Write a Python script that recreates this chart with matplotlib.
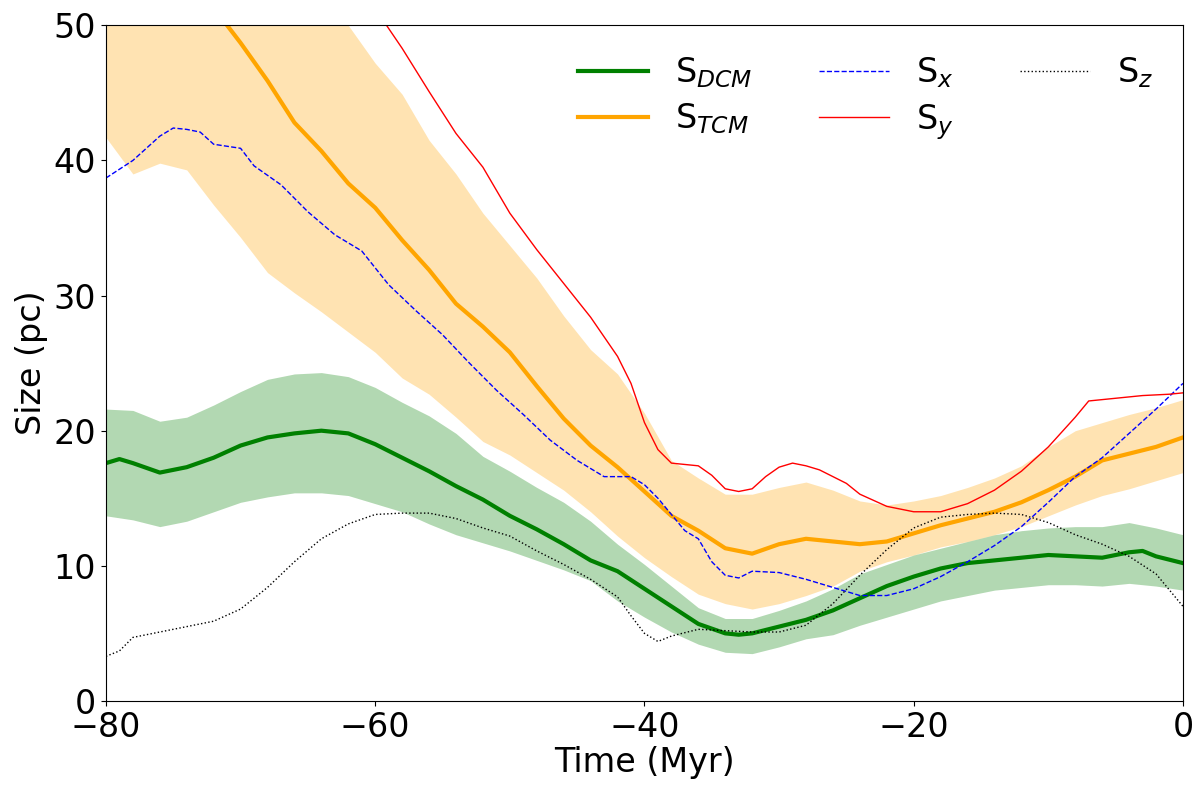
import matplotlib
matplotlib.use('Agg')
import matplotlib.pyplot as plt

# values (time in Myr, size in pc)

# S_DCM with its band
t_dcm = [-80, -79, -78, -76, -74, -72, -70, -68, -66, -64, -62, -60, -58, -56, -54,
         -52, -50, -48, -46, -44, -42, -40, -38, -36, -34, -33, -32, -30, -28, -26,
         -24, -22, -20, -18, -16, -14, -12, -10, -8, -6, -4, -3, -2, 0]
s_dcm = [17.6, 17.9, 17.6, 16.9, 17.3, 18.0, 18.9, 19.5, 19.8, 20.0, 19.8, 19.0, 18.0, 17.0, 15.9,
         14.9, 13.7, 12.7, 11.6, 10.4, 9.6, 8.3, 7.0, 5.7, 5.0, 4.9, 5.0, 5.5, 6.0, 6.7,
         7.6, 8.5, 9.2, 9.8, 10.2, 10.4, 10.6, 10.8, 10.7, 10.6, 11.0, 11.1, 10.7, 10.2]

t_band = [-80, -78, -76, -74, -72, -70, -68, -66, -64, -62, -60, -58, -56, -54, -52,
          -50, -48, -46, -44, -42, -40, -38, -36, -34, -32, -30, -28, -26, -24, -22,
          -20, -18, -16, -14, -12, -10, -8, -6, -4, -2, 0]
dcm_up = [21.6, 21.5, 20.7, 21.0, 21.9, 22.9, 23.8, 24.2, 24.3, 24.0, 23.2, 22.1, 21.1, 19.8, 18.1,
          17.0, 15.8, 14.7, 13.3, 11.6, 10.1, 8.5, 6.9, 6.1, 6.1, 6.7, 7.4, 8.3, 9.4, 10.1,
          10.8, 11.3, 11.8, 12.3, 12.6, 12.8, 12.9, 12.9, 13.2, 12.8, 12.3]
dcm_lo = [13.7, 13.4, 12.9, 13.3, 14.0, 14.7, 15.1, 15.4, 15.4, 15.2, 14.6, 14.0, 13.1, 12.3, 11.7,
          11.1, 10.4, 9.7, 8.9, 7.4, 6.2, 5.1, 4.2, 3.6, 3.5, 4.0, 4.6, 4.9, 5.6, 6.2,
          6.8, 7.4, 7.8, 8.2, 8.4, 8.6, 8.6, 8.5, 8.7, 8.5, 8.2]

# S_TCM with its band
t_tcm = [-72, -70, -68, -66, -64, -62, -60, -58, -56, -54, -52, -50, -48, -46, -44,
         -42, -40, -38, -36, -34, -32, -30, -28, -26, -24, -22, -20, -18, -16, -14,
         -12, -10, -8, -6, -4, -2, 0]
s_tcm = [51.3, 48.7, 45.9, 42.8, 40.7, 38.3, 36.5, 34.1, 31.9, 29.4, 27.7, 25.8, 23.3, 20.9, 18.9,
         17.3, 15.5, 13.7, 12.6, 11.3, 10.9, 11.6, 12.0, 11.8, 11.6, 11.8, 12.4, 13.0, 13.5, 14.0,
         14.7, 15.6, 16.6, 17.8, 18.3, 18.8, 19.5]
tcm_up = [62.0, 61.0, 60.0, 59.0, 58.0, 57.0, 55.5, 54.0, 52.0, 50.0, 47.2, 44.9, 41.5, 39.0, 36.1,
          33.7, 31.3, 28.5, 26.0, 24.2, 21.3, 17.8, 16.5, 15.3, 15.3, 15.8, 16.2, 15.6, 14.8, 14.5,
          14.8, 15.2, 15.8, 16.5, 17.4, 18.8, 20.0, 20.6, 21.2, 21.7, 22.3]
tcm_lo = [41.7, 39.0, 39.8, 39.3, 36.7, 34.3, 31.7, 30.2, 28.8, 27.3, 25.8, 23.9, 22.7, 21.0, 19.2,
          18.2, 16.9, 15.6, 14.0, 12.2, 10.6, 9.2, 7.9, 7.2, 6.8, 7.2, 7.8, 8.5, 9.6, 10.3,
          10.8, 11.4, 11.8, 12.3, 12.9, 13.7, 14.5, 15.2, 15.7, 16.3, 16.9]

# S_x
t_x = [-80, -78, -76, -75, -74, -73, -72, -70, -69, -67, -65, -63, -61, -59, -57, -55,
       -53, -51, -49, -47, -45, -43, -41, -40, -39, -38, -37, -36, -35, -34, -33, -32,
       -30, -28, -26, -24, -22, -20, -18, -16, -14, -12, -10, -8, -6, -4, -2, 0]
s_x = [38.7, 40.0, 41.8, 42.4, 42.3, 42.1, 41.2, 40.9, 39.6, 38.2, 36.2, 34.5, 33.3, 30.8, 28.9, 27.1,
       25.0, 23.0, 21.2, 19.3, 17.8, 16.6, 16.6, 16.0, 15.0, 13.8, 12.6, 12.0, 10.3, 9.3, 9.1, 9.6,
       9.5, 9.0, 8.4, 7.8, 7.8, 8.3, 9.2, 10.3, 11.5, 12.9, 14.7, 16.6, 18.0, 19.8, 21.6, 23.5]

# S_y
t_y = [-59.5, -58, -56, -54, -52, -50, -48, -46, -44, -42, -41, -40, -39, -38, -37,
       -36, -35, -34, -33, -32, -31, -30, -29, -28, -27, -26, -25, -24, -22, -20,
       -18, -16, -14, -12, -10, -8, -7, -5, -3, -1, 0]
s_y = [50.5, 48.3, 45.1, 42.0, 39.5, 36.1, 33.4, 30.9, 28.4, 25.5, 23.5, 20.6, 18.6, 17.6, 17.5,
       17.4, 16.7, 15.7, 15.5, 15.7, 16.6, 17.3, 17.6, 17.4, 17.1, 16.6, 16.1, 15.3, 14.4, 14.0,
       14.0, 14.6, 15.6, 17.0, 18.8, 21.0, 22.2, 22.4, 22.6, 22.7, 22.8]

# S_z
t_z = [-80, -79, -78, -76, -74, -72, -70, -68, -66, -64, -62, -60, -58, -56, -54,
       -52, -50, -48, -46, -44, -42, -41, -40, -39, -38, -36, -34, -32, -30, -28,
       -26, -24, -22, -20, -18, -16, -14, -12, -10, -8, -6, -4, -2, 0]
s_z = [3.3, 3.7, 4.7, 5.1, 5.5, 5.9, 6.8, 8.4, 10.3, 12.0, 13.1, 13.8, 13.9, 13.9, 13.5,
       12.8, 12.2, 11.1, 10.1, 9.0, 7.7, 6.3, 5.0, 4.4, 4.8, 5.3, 5.2, 5.1, 5.1, 5.6,
       7.2, 9.3, 11.2, 12.8, 13.6, 13.8, 13.9, 13.8, 13.2, 12.3, 11.6, 10.7, 9.4, 7.0]

# plot options (large fonts)
plt.rcParams['font.family'] = ['DejaVu Sans']
plt.rcParams['font.size'] = 24

fig = plt.figure(figsize=(12, 7.92), dpi=100)
ax = fig.add_axes([0.0883, 0.115, 0.8975, 0.853])

# shaded bands first, lines on top
ax.fill_between(t_band, tcm_lo, tcm_up, color='orange', alpha=0.3, linewidth=0)
ax.fill_between(t_band, dcm_lo, dcm_up, color='green', alpha=0.3, linewidth=0)

ax.plot(t_dcm, s_dcm, color='green', linewidth=3, label=r'S$_{DCM}$')
ax.plot(t_tcm, s_tcm, color='orange', linewidth=3, label=r'S$_{TCM}$')
ax.plot(t_x, s_x, color='blue', linewidth=1, linestyle='--', label=r'S$_{x}$')
ax.plot(t_y, s_y, color='red', linewidth=1, label=r'S$_{y}$')
ax.plot(t_z, s_z, color='black', linewidth=1, linestyle=':', label=r'S$_{z}$')

# further plot decorations
ax.set_xlim(-80, 0)
ax.set_ylim(0, 50)
ax.set_xticks([-80, -60, -40, -20, 0])
ax.set_yticks([0, 10, 20, 30, 40, 50])
ax.set_xlabel('Time (Myr)', labelpad=2)
ax.set_ylabel('Size (pc)', labelpad=4)
ax.legend(loc='upper right', ncol=3, frameon=False, fontsize=24,
          handlelength=2.1, labelspacing=0.35)

plt.savefig('out.png', dpi=100)
plt.close()
